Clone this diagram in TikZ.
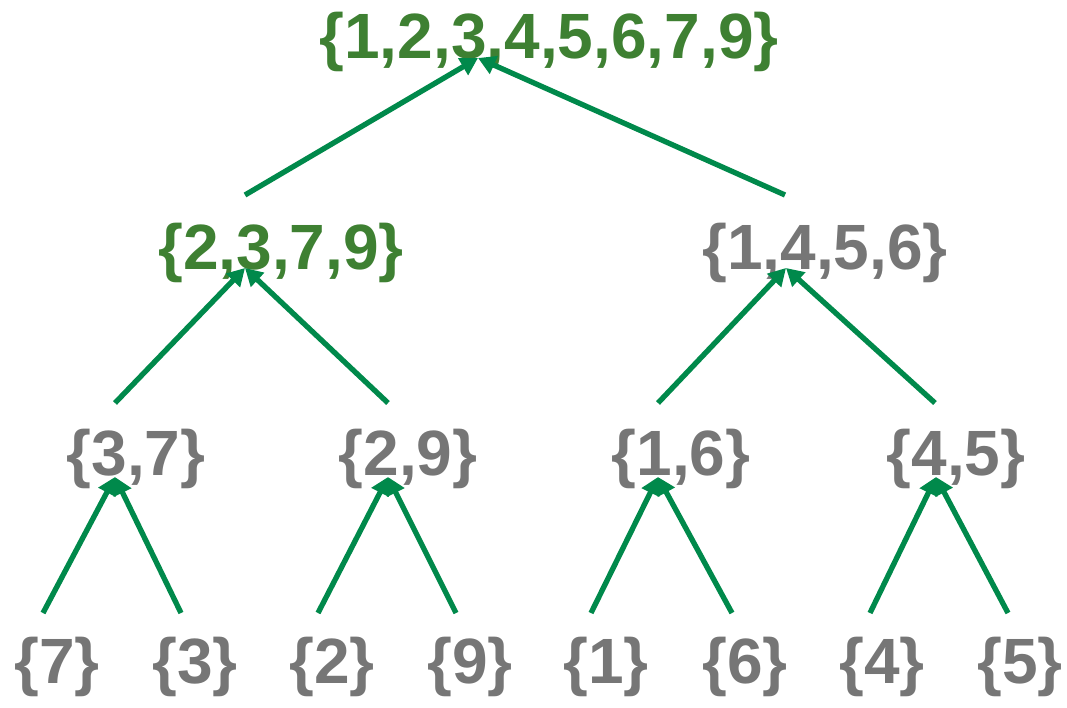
\documentclass[tikz,border=0pt]{standalone}
\usepackage{fontspec}
\setmainfont{Liberation Sans}
\usepackage{tikz}
\usetikzlibrary{arrows.meta}
\definecolor{setgreen}{RGB}{62,128,50}
\definecolor{setgray}{RGB}{118,118,118}
\definecolor{edgegreen}{RGB}{0,137,75}
\tikzstyle{set} = [inner sep=0pt, text height=33pt, text depth=12pt, font=\fontsize{48}{57}\selectfont\bfseries, text=setgray]
\tikzstyle{merged} = [set, text=setgreen]
\tikzstyle{edge} = [line width=4pt, draw=edgegreen, -{Triangle[length=13pt,width=14pt]}]

\begin{document}
\begin{tikzpicture}[x=0.75pt, y=-0.75pt]
\useasboundingbox (0,0) rectangle (1067,707);
%----------------------------------------------------------------------------
% Placement of set nodes
\node (all) [merged] at (549,44) {\{1,2,3,4,5,6,7,9\}};

\node (s2379) [merged] at (281,255) {\{2,3,7,9\}};
\node (s1456) [set] at (825,255) {\{1,4,5,6\}};

\node (s37) [set] at (136,461) {\{3,7\}};
\node (s29) [set] at (408,461) {\{2,9\}};
\node (s16) [set] at (681,461) {\{1,6\}};
\node (s45) [set] at (956,461) {\{4,5\}};

\node (s7) [set] at (57,669) {\{7\}};
\node (s3) [set] at (195,669) {\{3\}};
\node (s2) [set] at (332,669) {\{2\}};
\node (s9) [set] at (470,669) {\{9\}};
\node (s1) [set] at (606,669) {\{1\}};
\node (s6) [set] at (745,669) {\{6\}};
\node (s4) [set] at (882,669) {\{4\}};
\node (s5) [set] at (1020,669) {\{5\}};

%----------------------------------------------------------------------------
% Draw merge arrows, singletons
\draw [edge] ([shift={(-14,-56)}]s7.center) -- ([shift={(-21,16)}]s37.center);
\draw [edge] ([shift={(-14,-56)}]s3.center) -- ([shift={(-21,16)}]s37.center);
\draw [edge] ([shift={(-14,-56)}]s2.center) -- ([shift={(-20,16)}]s29.center);
\draw [edge] ([shift={(-14,-56)}]s9.center) -- ([shift={(-20,16)}]s29.center);
\draw [edge] ([shift={(-15,-56)}]s1.center) -- ([shift={(-23,16)}]s16.center);
\draw [edge] ([shift={(-13,-56)}]s6.center) -- ([shift={(-23,16)}]s16.center);
\draw [edge] ([shift={(-12,-56)}]s4.center) -- ([shift={(-20,16)}]s45.center);
\draw [edge] ([shift={(-12,-56)}]s5.center) -- ([shift={(-20,16)}]s45.center);

%----------------------------------------------------------------------------
% Draw merge arrows, pairs and halves
\draw [edge] ([shift={(-21,-58)}]s37.center) -- ([shift={(-36,13)}]s2379.center);
\draw [edge] ([shift={(-20,-58)}]s29.center) -- ([shift={(-36,13)}]s2379.center);
\draw [edge] ([shift={(-23,-58)}]s16.center) -- ([shift={(-39,13)}]s1456.center);
\draw [edge] ([shift={(-21,-58)}]s45.center) -- ([shift={(-39,13)}]s1456.center);

\draw [edge] ([shift={(-36,-60)}]s2379.center) -- ([shift={(-71,14)}]all.center);
\draw [edge] ([shift={(-40,-60)}]s1456.center) -- ([shift={(-71,14)}]all.center);

\end{tikzpicture}
\end{document}
